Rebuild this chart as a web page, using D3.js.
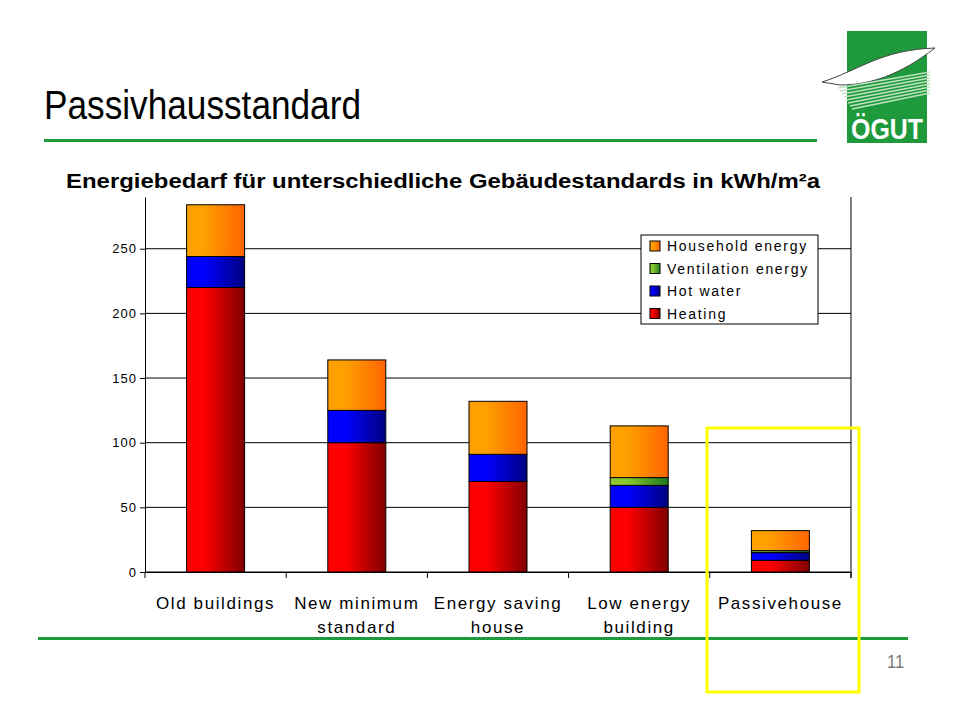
<!DOCTYPE html><html><head><meta charset="utf-8"><script src="https://cdn.jsdelivr.net/npm/d3@7"></script>
<style>body{margin:0;background:#fff}</style></head><body><svg id="c" width="960" height="720"></svg>
<script>
const categories=[["Old buildings"],["New minimum","standard"],["Energy saving","house"],["Low energy","building"],["Passivehouse"]];
const seriesNames=["Heating","Hot water","Ventilation energy","Household energy"];
const heating=[220,100,70,50,9];
const hotWater=[24,25,21,17,6];
const ventilation=[0,0,0,6,1.5];
const household=[40,39,41,40,15.5];
const yTicks=[0,50,100,150,200,250];
const colors=[["#ff0000","#800000"],["#0000ff","#000080"],["#8ac832","#1e7a1e"],["#ffa000","#ff6400"]];
const svg=d3.select("#c");
const defs=svg.append("defs");
colors.forEach((c,i)=>{const g=defs.append("linearGradient").attr("id","g"+i);g.append("stop").attr("offset","0").attr("stop-color",c[0]);g.append("stop").attr("offset","0.3").attr("stop-color",c[0]);g.append("stop").attr("offset","1").attr("stop-color",c[1]);});
svg.append("text").attr("x",44).attr("y",119).attr("font-family","Liberation Sans").attr("font-size",40).attr("fill","#000").attr("textLength",317).attr("lengthAdjust","spacingAndGlyphs").text("Passivhausstandard");
svg.append("rect").attr("x",44).attr("y",139).attr("width",773).attr("height",3).attr("fill","#1e9a3c");
svg.append("rect").attr("x",38).attr("y",637).attr("width",870).attr("height",3).attr("fill","#1e9a3c");
svg.append("text").attr("x",887).attr("y",668).attr("font-family","Liberation Sans").attr("font-size",18).attr("fill","#777").attr("textLength",17).attr("lengthAdjust","spacingAndGlyphs").text("11");
svg.append("text").attr("x",66).attr("y",188).attr("font-family","Liberation Sans").attr("font-weight","bold").attr("font-size",20).attr("textLength",754).attr("lengthAdjust","spacingAndGlyphs").text("Energiebedarf für unterschiedliche Gebäudestandards in kWh/m²a");
const lg=svg.append("g");
lg.append("rect").attr("x",847).attr("y",31).attr("width",80).attr("height",112).attr("fill","#1e9a3c");
lg.append("path").attr("d","M822,82 C860,70 880,50 935,48 C900,75 870,85 840,85 Z").attr("fill","#fff").attr("stroke","#444").attr("stroke-width",1);
for(let i=0;i<8;i++)lg.append("line").attr("x1",838+i*2).attr("x2",930).attr("y1",88+i*3).attr("y2",72+i*3).attr("stroke","#bfe3bf").attr("stroke-width",1.5);
lg.append("text").attr("x",887).attr("y",139).attr("text-anchor","middle").attr("font-family","Liberation Sans").attr("font-weight","bold").attr("font-size",30).attr("fill","#fff").attr("textLength",72).attr("lengthAdjust","spacingAndGlyphs").text("ÖGUT");
const L=145,R=851,T=197,B=572;
const x=d3.scaleBand().domain(d3.range(5)).range([L,R]);
const y=d3.scaleLinear().domain([0,290]).range([B,T]);
const g=svg.append("g");
g.selectAll(".gl").data(yTicks).join("line").attr("x1",L).attr("x2",R).attr("y1",d=>y(d)).attr("y2",d=>y(d)).attr("stroke","#000");
g.append("line").attr("x1",R).attr("x2",R).attr("y1",T).attr("y2",B+6).attr("stroke","#000");
const ya=g.append("g").attr("transform",`translate(${L},0)`).call(d3.axisLeft(y).tickValues(yTicks).tickSize(5).tickSizeOuter(0));
ya.select(".domain").attr("stroke","#000");
ya.selectAll("text").attr("font-family","Liberation Sans").attr("font-size",13).attr("letter-spacing","1px");
const xa=g.append("g").attr("transform",`translate(0,${B})`).call(d3.axisBottom(x).tickSize(0).tickFormat(""));
xa.select(".domain").attr("stroke","#000");
g.selectAll(".xt").data(d3.range(6)).join("line").attr("x1",d=>L+d*x.step()).attr("x2",d=>L+d*x.step()).attr("y1",B).attr("y2",B+6).attr("stroke","#000");
const stackData=d3.range(5).map(i=>({h:heating[i],w:hotWater[i],v:ventilation[i],e:household[i]}));
const st=d3.stack().keys(["h","w","v","e"])(stackData);
const bw=58;
st.forEach((s,k)=>{g.selectAll(".b"+k).data(s).join("rect").attr("x",(d,i)=>x(i)+x.bandwidth()/2-bw/2).attr("width",bw).attr("y",d=>y(d[1])).attr("height",d=>y(d[0])-y(d[1])).attr("fill",`url(#g${k})`).attr("stroke",d=>d[1]>d[0]?"#000":"none").attr("stroke-width",1);});
categories.forEach((c,i)=>{const t=g.append("text").attr("x",x(i)+x.bandwidth()/2).attr("y",609).attr("text-anchor","middle").attr("font-family","Liberation Sans").attr("font-size",17).attr("letter-spacing","1.6px");c.forEach((l,j)=>t.append("tspan").attr("x",x(i)+x.bandwidth()/2).attr("dy",j?24:0).text(l));});
const lgd=g.append("g");
lgd.append("rect").attr("x",641).attr("y",235).attr("width",177).attr("height",89).attr("fill","#fff").attr("stroke","#000");
[3,2,1,0].forEach((k,j)=>{const yy=247+j*22.5;lgd.append("rect").attr("x",650).attr("y",yy-6).attr("width",10).attr("height",10).attr("fill",`url(#g${k})`).attr("stroke","#000");lgd.append("text").attr("x",667).attr("y",yy+4).attr("font-family","Liberation Sans").attr("font-size",14).attr("letter-spacing","1.7px").text(seriesNames[k]);});
svg.append("rect").attr("x",707).attr("y",428).attr("width",152).attr("height",264).attr("fill","none").attr("stroke","#ffff00").attr("stroke-width",3);
</script></body></html>
